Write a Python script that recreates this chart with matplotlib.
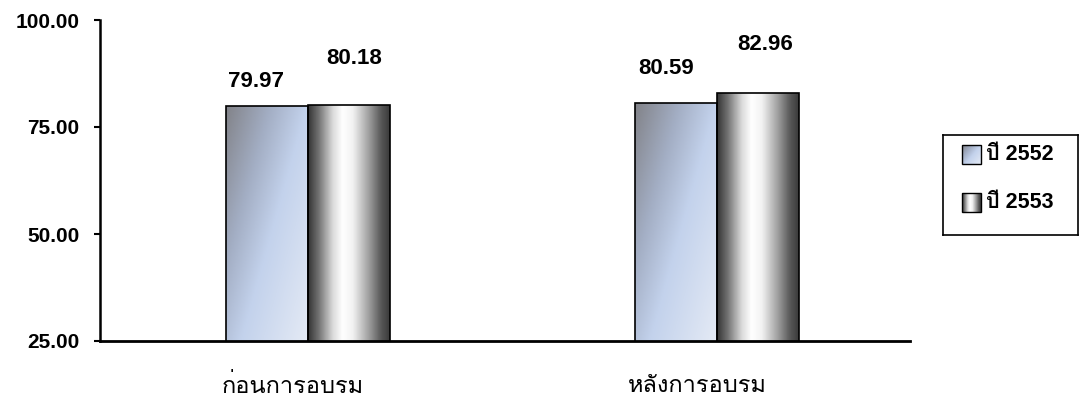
import numpy as np
import matplotlib
matplotlib.use("Agg")
import matplotlib.pyplot as plt
import matplotlib.transforms as mtransforms
from matplotlib import font_manager
from matplotlib.ft2font import FT2Font
from matplotlib.colors import LinearSegmentedColormap
from matplotlib.patches import Rectangle
from matplotlib.ticker import FormatStrFormatter

# data
categories = ["ก่อนการอบรม", "หลังการอบรม"]
series_names = ["ปี 2552", "ปี 2553"]
values_2552 = [79.97, 80.59]
values_2553 = [80.18, 82.96]
yticks = [25, 50, 75, 100]


def find_thai_family():
    # pick any installed font that has Thai glyphs
    for f in font_manager.fontManager.ttflist:
        try:
            if ord("ก") in FT2Font(f.fname).get_charmap():
                return f.name
        except Exception:
            pass
    return "DejaVu Sans"


thai = find_thai_family()
latin = "Liberation Sans"

# gradients
cmap_blue = LinearSegmentedColormap.from_list(
    "blue", [(0, "#828389"), (0.3, "#a3aec4"), (0.55, "#c3d2ec"), (1, "#e4eaf5")])
cmap_cyl = LinearSegmentedColormap.from_list(
    "cyl", [(0, "#383838"), (0.12, "#707070"), (0.3, "#dadada"), (0.42, "#ffffff"),
            (0.55, "#f2f2f2"), (0.75, "#9e9e9e"), (0.9, "#585858"), (1, "#3c3c3c")])

u, v = np.meshgrid(np.linspace(0, 1, 60), np.linspace(0, 1, 120))
grad_blue = 0.55 * u + 0.45 * (1 - v)
grad_cyl = u

fig = plt.figure(figsize=(10.8, 4.12), dpi=100)
ax = fig.add_axes([100 / 1080, 1 - 341 / 412, 810 / 1080, 321 / 412])

x = np.arange(len(categories))
w = 0.2
bars1 = ax.bar(x - w / 2, values_2552, w, facecolor="none", edgecolor="black", lw=1.2, zorder=3)
bars2 = ax.bar(x + w / 2, values_2553, w, facecolor="none", edgecolor="black", lw=1.2, zorder=3)

ylo, yhi = 25, 100
for bars, grad, cm in [(bars1, grad_blue, cmap_blue), (bars2, grad_cyl, cmap_cyl)]:
    for b in bars:
        x0 = b.get_x()
        x1 = x0 + b.get_width()
        y0 = max(b.get_y(), ylo)
        y1 = b.get_y() + b.get_height()
        im = ax.imshow(grad, extent=[x0, x1, y0, y1], origin="lower", aspect="auto",
                       cmap=cm, vmin=0, vmax=1, zorder=2, interpolation="bilinear")
        im.set_clip_path(b)

# value labels, staggered like the original
offsets1 = [(-8, 10), (-7, 17)]
offsets2 = [(4, 26), (5, 27)]
for bars, vals, offs in [(bars1, values_2552, offsets1), (bars2, values_2553, offsets2)]:
    for b, val, off in zip(bars, vals, offs):
        ax.annotate(f"{val:.2f}", (b.get_x() + b.get_width() / 2, b.get_height()),
                    xytext=off, textcoords="offset points", ha="center", va="bottom",
                    fontsize=16, fontweight="bold", family=latin)

ax.set_xlim(-0.508, 1.472)
ax.set_ylim(ylo, yhi)
ax.set_yticks(yticks)
ax.yaxis.set_major_formatter(FormatStrFormatter("%.2f"))
for lab in ax.get_yticklabels():
    lab.set_fontweight("bold")
    lab.set_fontsize(15)
    lab.set_family(latin)
ax.tick_params(axis="y", length=4, width=1.5, pad=11)
ax.set_xticks(x)
ax.set_xticklabels(categories, fontsize=17, family=[thai, "DejaVu Sans"])
ax.tick_params(axis="x", length=0, pad=24)
for lab, dx in zip(ax.get_xticklabels(), [-15, -20]):
    lab.set_transform(lab.get_transform() + mtransforms.ScaledTranslation(dx / 100, 0, fig.dpi_scale_trans))
for s in ["top", "right"]:
    ax.spines[s].set_visible(False)
ax.spines["left"].set_linewidth(1.8)
ax.spines["bottom"].set_linewidth(2)

# legend drawn by hand so the swatches keep their gradients
lax = fig.add_axes([943 / 1080, 1 - 235 / 412, 135 / 1080, 100 / 412])
lax.set_xticks([])
lax.set_yticks([])
for s in lax.spines.values():
    s.set_linewidth(1.2)
lax.set_facecolor("white")
for i, (name, grad, cm) in enumerate([(series_names[0], grad_blue, cmap_blue),
                                      (series_names[1], grad_cyl, cmap_cyl)]):
    yc = 80 - i * 48
    sq = Rectangle((19, yc - 9), 19, 19, facecolor="none", edgecolor="black", lw=1, zorder=3)
    lax.add_patch(sq)
    im = lax.imshow(grad, extent=[19, 38, yc - 9, yc + 10], origin="lower", aspect="auto",
                    cmap=cm, vmin=0, vmax=1, zorder=2)
    im.set_clip_path(sq)
    lax.text(43, yc, name, va="center", ha="left", fontsize=15.5, fontweight="bold",
             family=[latin, thai, "DejaVu Sans"])
lax.set_xlim(0, 135)
lax.set_ylim(0, 100)

fig.savefig("out.png", dpi=100)
